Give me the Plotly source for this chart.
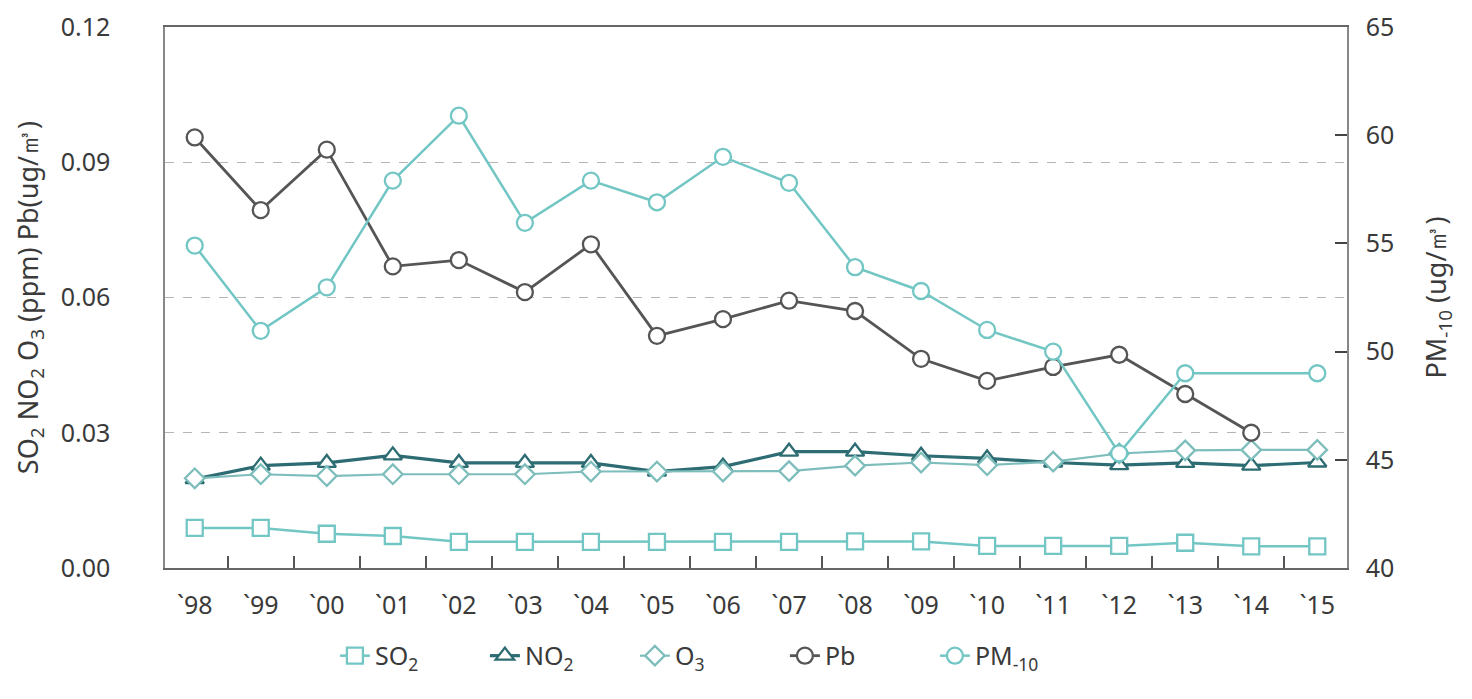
import plotly.graph_objects as go

years = ["`98", "`99", "`00", "`01", "`02", "`03", "`04", "`05", "`06",
         "`07", "`08", "`09", "`10", "`11", "`12", "`13", "`14", "`15"]

so2 = [0.0089, 0.0089, 0.0076, 0.0071, 0.0058, 0.0058, 0.0058, 0.0058, 0.0058,
       0.0058, 0.0059, 0.0059, 0.0049, 0.0049, 0.0049, 0.0056, 0.0048, 0.0048]
no2 = [0.0197, 0.0227, 0.0233, 0.0250, 0.0233, 0.0233, 0.0233, 0.0214, 0.0225,
       0.0258, 0.0258, 0.0249, 0.0243, 0.0234, 0.0228, 0.0233, 0.0227, 0.0234]
o3 = [0.0199, 0.0208, 0.0204, 0.0208, 0.0208, 0.0208, 0.0214, 0.0214, 0.0214,
      0.0215, 0.0227, 0.0234, 0.0228, 0.0236, 0.0254, 0.0261, 0.0262, 0.0262]
pb = [0.0955, 0.0794, 0.0928, 0.0669, 0.0683, 0.0612, 0.0718, 0.0515, 0.0552,
      0.0593, 0.0570, 0.0464, 0.0415, 0.0446, 0.0473, 0.0386, 0.0300, None]
pm10 = [54.9, 50.96, 52.97, 57.9, 60.9, 55.95, 57.9, 56.9, 59.0,
        57.8, 53.9, 52.8, 51.0, 50.0, 45.3, 49.0, None, 49.0]

LIGHT = "#72c6c4"
DARK_TEAL = "#2c6c72"
GRAY = "#555555"
O3C = "#7dbdbb"
TXT = "#3a3a3a"

FONT = "Noto Sans, Open Sans, sans-serif"

fig = go.Figure()

def add(name, y, color, symbol, size, width, yaxis="y", connect=False):
    fig.add_trace(go.Scatter(
        x=years, y=y, name=name, mode="lines+markers", yaxis=yaxis,
        connectgaps=connect,
        line=dict(color=color, width=width),
        marker=dict(symbol=symbol, size=size, color="white",
                    line=dict(color=color, width=2.3)),
    ))

add("SO<sub>2</sub>", so2, LIGHT, "square", 16, 2.5)
add("NO<sub>2</sub>", no2, DARK_TEAL, "triangle-up", 16, 3.2)
add("O<sub>3</sub>", o3, O3C, "diamond", 15, 2.2)
add("Pb", pb, GRAY, "circle", 16, 2.8)
add("PM<sub>-10</sub>", pm10, LIGHT, "circle", 16, 2.5, yaxis="y2", connect=True)

fig.update_layout(
    width=1472, height=699,
    margin=dict(l=157, r=133, t=19, b=139, autoexpand=False),
    paper_bgcolor="white", plot_bgcolor="white",
    font=dict(family=FONT, size=25, color=TXT),
    showlegend=True,
    legend=dict(orientation="h", x=0.461, xanchor="center", y=-0.12, yanchor="top",
                font=dict(size=25, color=TXT), traceorder="normal",
                entrywidth=105, entrywidthmode="pixels"),
    xaxis=dict(
        type="category", range=[-0.45, 17.45],
        showline=True, linecolor="#666", linewidth=2, mirror=True,
        ticks="inside", tickson="boundaries", ticklen=12, tickcolor="#555",
        tickwidth=1.5, showgrid=False, ticklabelstandoff=14,
        tickfont=dict(size=25, color=TXT),
    ),
    yaxis=dict(
        range=[0, 0.12], tickvals=[0, 0.03, 0.06, 0.09, 0.12],
        ticktext=["0.00", "0.03", "0.06", "0.09", "0.12"],
        showline=True, linecolor="#888", linewidth=1.5, mirror=True,
        ticks="", showgrid=True, gridcolor="#b5b5b5", griddash="dash", gridwidth=1,
        zeroline=False, ticklabelstandoff=48, ticklabeloverflow="allow",
        tickfont=dict(size=25, color=TXT),
        title=dict(text="SO<sub>2</sub> NO<sub>2</sub> O<sub>3</sub> (ppm) Pb(ug/㎥)",
                   font=dict(size=27, color=TXT), standoff=14),
    ),
    yaxis2=dict(
        range=[40, 65], tickvals=[40, 45, 50, 55, 60, 65],
        overlaying="y", side="right", showgrid=False, zeroline=False,
        showline=True, linecolor="#888", linewidth=1.5,
        ticks="inside", ticklen=12, tickcolor="#444", tickwidth=1.5,
        ticklabelstandoff=12, ticklabeloverflow="allow",
        tickfont=dict(size=25, color=TXT),
        title=dict(text="PM<sub>-10</sub> (ug/㎥)", font=dict(size=27, color=TXT),
                   standoff=34),
    ),
)

fig.write_html("out.html")
